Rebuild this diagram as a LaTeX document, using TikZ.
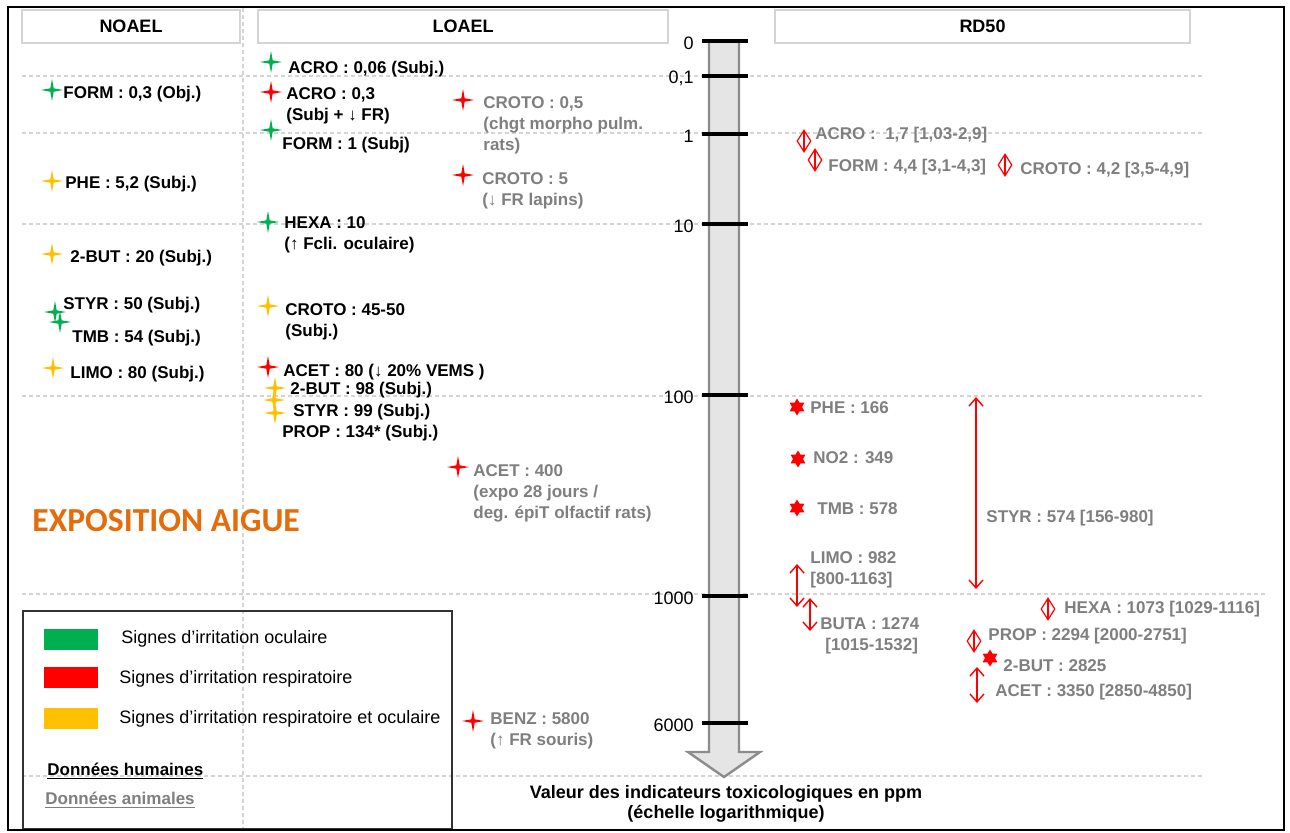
\documentclass[tikz,border=0pt]{standalone}
\usepackage{fontspec}
\setmainfont{Liberation Sans}
\newfontfamily\titrefont{Carlito}
\usetikzlibrary{shapes.geometric,arrows.meta}

\definecolor{irrOcu}{HTML}{00B050}
\definecolor{irrResp}{HTML}{FF0000}
\definecolor{irrBoth}{HTML}{FFC000}
\definecolor{animal}{HTML}{7F7F7F}
\definecolor{grille}{HTML}{D4D4D4}
\definecolor{expo}{HTML}{E46C0A}

\newcommand\lbl{\fontsize{9}{10.3}\selectfont}
\newcommand\etiq{\fontsize{8.5}{10.3}\selectfont}

\tikzset{
  spark/.style={star, star points=4, star point ratio=4.5, minimum size=11pt,
    fill=#1, draw=none},
  hexa/.style={star, star points=6, star point ratio=1.7, minimum size=8.5pt,
    fill=irrResp, draw=none},
  losange/.style={diamond, draw=irrResp, line width=0.6pt, minimum width=7pt,
    minimum height=11pt,
    path picture={\draw[irrResp, line width=0.6pt]
      (path picture bounding box.north) -- (path picture bounding box.south);}},
  hum/.style={font=\etiq\bfseries, text=black, anchor=base west, align=left},
  ani/.style={font=\etiq\bfseries, text=animal, anchor=base west, align=left},
  plage/.style={{Straight Barb[length=4pt,width=7pt]}-{Straight Barb[length=4pt,width=7pt]},
    irrResp, line width=0.7pt},
  grid line/.style={grille, line width=0.6pt, dash pattern=on 2pt off 1.5pt},
  entete/.style={draw=grille, line width=0.7pt, fill=white, font=\lbl\bfseries},
  graduation/.style={line width=2pt, black},
  echelle/.style={fill=black!10, draw=black!45, line width=1.2pt},
}

\begin{document}
\begin{tikzpicture}[x=0.5pt,y=-0.5pt,font=\lbl,every node/.style={inner sep=0pt}]
  \useasboundingbox[fill=white] (0,0) rectangle (1290,832);

  % grille
  \foreach \y in {76,133,224,396,776}
    \draw[grid line] (22,\y) -- (1205,\y);
  \draw[grid line] (22,594) -- (1268,594);
  \draw[grid line] (243,8) -- (243,830);

  % en-tetes
  \node[entete, minimum width=109pt, minimum height=16.5pt] (noael) at (131,26.5) {NOAEL};
  \node[entete, minimum width=205pt, minimum height=16.5pt] (loael) at (463,26.5) {LOAEL};
  \node[entete, minimum width=207.5pt, minimum height=16.5pt] (rd50) at (982.5,26.5) {RD50};

  % echelle logarithmique
  \filldraw[echelle] (709,41) -- (709,752) -- (688,752) -- (724,777)
    -- (760,752) -- (739,752) -- (739,41) -- cycle;
  \foreach \y/\v in {41/0,76/{0,1},134/1,224/10,395/100,596/1000,723/6000}{
    \draw[graduation] (702,\y) -- (748,\y);
    \node[anchor=east] (g\y) at (694,\y+2) {\v};
  }
  \node[font=\lbl\bfseries, align=center] (axe) at (726,804)
    {Valeur des indicateurs toxicologiques en ppm\\(échelle logarithmique)};

  % NOAEL
  \node[spark=irrOcu] (n-form) at (52,90) {};
  \node[hum] (tn-form) at (63,98) {FORM : 0,3 (Obj.)};
  \node[spark=irrBoth] (n-phe) at (52,181) {};
  \node[hum] (tn-phe) at (65,188) {PHE : 5,2 (Subj.)};
  \node[spark=irrBoth] (n-but) at (52,254) {};
  \node[hum] (tn-but) at (70,262) {2-BUT : 20 (Subj.)};
  \node[spark=irrOcu] (n-styr) at (55,312) {};
  \node[spark=irrOcu] (n-tmb) at (60,322) {};
  \node[hum] (tn-styr) at (63,309) {STYR : 50 (Subj.)};
  \node[hum] (tn-tmb) at (72,342) {TMB : 54 (Subj.)};
  \node[spark=irrBoth] (n-limo) at (53,368) {};
  \node[hum] (tn-limo) at (70,378) {LIMO : 80 (Subj.)};

  % LOAEL, donnees humaines
  \node[spark=irrOcu] (l-acro1) at (271,62) {};
  \node[hum] (tl-acro1) at (288,73) {ACRO : 0,06 (Subj.)};
  \node[spark=irrResp] (l-acro2) at (271,92) {};
  \node[hum] (tl-acro2) at (286,120) {ACRO : 0,3\\(Subj + ↓ FR)};
  \node[spark=irrOcu] (l-form) at (271,130) {};
  \node[hum] (tl-form) at (282,149) {FORM : 1 (Subj)};
  \node[spark=irrOcu] (l-hexa) at (268,222) {};
  \node[hum] (tl-hexa) at (284,249) {HEXA : 10\\(↑ Fcli. oculaire)};
  \node[spark=irrBoth] (l-croto) at (268,306) {};
  \node[hum] (tl-croto) at (285,336) {CROTO : 45-50\\(Subj.)};
  \node[spark=irrResp] (l-acet) at (268,367) {};
  \node[hum] (tl-acet) at (283,376) {ACET : 80 (↓ 20\% VEMS )};
  \node[spark=irrBoth] (l-but) at (275,388) {};
  \node[spark=irrBoth] (l-styr) at (274,400) {};
  \node[spark=irrBoth] (l-prop) at (275,413) {};
  \node[hum] (tl-but) at (290,394) {2-BUT : 98 (Subj.)};
  \node[hum] (tl-styr) at (293,416) {STYR : 99 (Subj.)};
  \node[hum] (tl-prop) at (282,437) {PROP : 134* (Subj.)};

  % LOAEL, donnees animales
  \node[spark=irrResp] (a-croto1) at (463,100) {};
  \node[ani] (ta-croto1) at (483,150) {CROTO : 0,5\\(chgt morpho pulm.\\rats)};
  \node[spark=irrResp] (a-croto2) at (463,175) {};
  \node[ani] (ta-croto2) at (482,205) {CROTO : 5\\(↓ FR lapins)};
  \node[spark=irrResp] (a-acet) at (458,467) {};
  \node[ani] (ta-acet) at (473,518) {ACET : 400\\(expo 28 jours /\\deg. épiT olfactif rats)};
  \node[spark=irrResp] (a-benz) at (473,721) {};
  \node[ani] (ta-benz) at (490,745) {BENZ : 5800\\(↑ FR souris)};

  % RD50
  \node[losange] (r-acro) at (804,141) {};
  \node[ani] (tr-acro) at (815,139) {ACRO :~~1,7 [1,03-2,9]};
  \node[losange] (r-form) at (815,160) {};
  \node[ani] (tr-form) at (828,171) {FORM : 4,4 [3,1-4,3]};
  \node[losange] (r-croto) at (1005,165) {};
  \node[ani] (tr-croto) at (1020,174) {CROTO : 4,2 [3,5-4,9]};
  \node[hexa] (r-phe) at (797,407) {};
  \node[ani] (tr-phe) at (810,413) {PHE : 166};
  \node[hexa] (r-no2) at (798,459) {};
  \node[ani] (tr-no2) at (813,463) {NO2 : 349};
  \node[hexa] (r-tmb) at (797,508) {};
  \node[ani] (tr-tmb) at (817,514) {TMB : 578};
  \coordinate (limo-h) at (797,564);
  \coordinate (limo-b) at (797,607);
  \draw[plage] (limo-h) -- (limo-b);
  \node[ani] (tr-limo) at (810,584) {LIMO : 982\\ {[800-1163]}};
  \coordinate (buta-h) at (810,598);
  \coordinate (buta-b) at (810,631);
  \draw[plage] (buta-h) -- (buta-b);
  \node[ani] (tr-buta) at (820,650) {BUTA : 1274\\\hspace*{2.5pt}[1015-1532]};
  \coordinate (styr-h) at (976,397);
  \coordinate (styr-b) at (976,589);
  \draw[plage] (styr-h) -- (styr-b);
  \node[ani] (tr-styr) at (986,522) {STYR : 574 [156-980]};
  \node[losange] (r-hexa) at (1048,609) {};
  \node[ani] (tr-hexa) at (1064,613) {HEXA : 1073 [1029-1116]};
  \node[losange] (r-prop) at (974,641) {};
  \node[ani] (tr-prop) at (988,640) {PROP : 2294 [2000-2751]};
  \node[hexa] (r-but) at (990,658) {};
  \node[ani] (tr-but) at (1003,671) {2-BUT : 2825};
  \coordinate (acet-h) at (977,667);
  \coordinate (acet-b) at (977,703);
  \draw[plage] (acet-h) -- (acet-b);
  \node[ani] (tr-acet) at (995,696) {ACET : 3350 [2850-4850]};

  % titre
  \node[anchor=west, text=expo, font=\titrefont\bfseries\fontsize{16.8}{18}\selectfont]
    (expo) at (32,521) {EXPOSITION AIGUE};

  % legende
  \draw[black!80, line width=0.8pt] (23,611) rectangle (452,829);
  \fill[irrOcu] (44,629) rectangle (98,650);
  \fill[irrResp] (44,667) rectangle (98,688);
  \fill[irrBoth] (44,708) rectangle (98,729);
  \node[anchor=west] (leg-ocu) at (121,639) {Signes d'irritation oculaire};
  \node[anchor=west] (leg-resp) at (119,679) {Signes d'irritation respiratoire};
  \node[anchor=west] (leg-both) at (119,719) {Signes d'irritation respiratoire et oculaire};
  \node[hum] (leg-hum) at (47,775) {\underline{Données humaines}};
  \node[ani] (leg-ani) at (45,804) {\underline{Données animales}};

  % cadre
  \draw[black, line width=1.2pt] (8,7) rectangle (1284,830);
\end{tikzpicture}
\end{document}
